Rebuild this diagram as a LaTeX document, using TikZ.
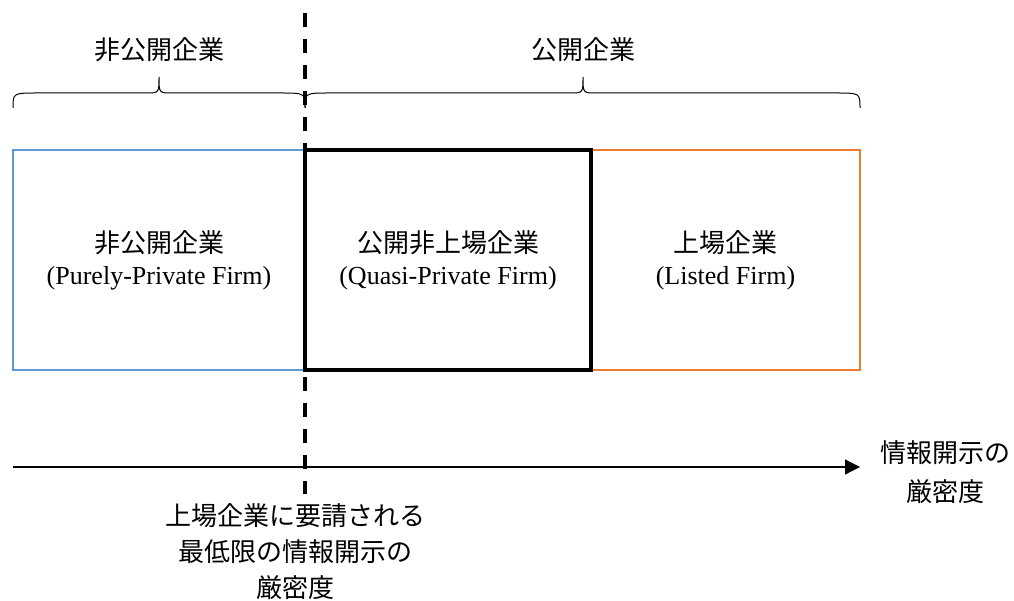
\documentclass[tikz,border=0pt]{standalone}
\usepackage{fontspec}
\setmainfont{Liberation Serif}
\newfontfamily\cjk{Noto Sans CJK JP}
\usetikzlibrary{arrows.meta}
\definecolor{boxblue}{HTML}{5B9BD5}
\definecolor{boxorange}{HTML}{ED7D31}
\begin{document}
\begin{tikzpicture}[x=1pt,y=-1pt,
  firm/.style={minimum height=220pt, inner sep=0pt, align=center, font=\fontsize{26}{32}\selectfont},
  lbl/.style={inner sep=0pt, align=center, font=\fontsize{26}{37}\selectfont\cjk},
  bracepath/.style={draw=black, line width=1pt},
  axis/.style={draw=black, line width=1.2pt, -{Triangle[length=15pt,width=15pt]}},
  divider/.style={draw=black, line width=4pt, dash pattern=on 14pt off 12pt}]
\useasboundingbox (0,0) rectangle (1014,601);
% boxes
\node[firm, draw=boxblue, line width=2pt, minimum width=292pt] (priv) at (159,260) {{\cjk 非公開企業}\\(Purely-Private Firm)};
\node[firm, draw=boxorange, line width=2pt, minimum width=269pt] (listed) at (725.5,260) {{\cjk 上場企業}\\(Listed Firm)};
\node[firm, draw=black, line width=4.5pt, minimum width=286pt] (quasi) at (448,260) {{\cjk 公開非上場企業}\\(Quasi-Private Firm)};
% braces
\draw[bracepath] (13,108) .. controls (13,93) .. (38,93) -- (146,93) .. controls (159,93) .. (159,77) .. controls (159,93) .. (172,93) -- (280,93) .. controls (305,93) .. (305,108);
\draw[bracepath] (305,108) .. controls (305,93) .. (330,93) -- (570,93) .. controls (583,93) .. (583,77) .. controls (583,93) .. (596,93) -- (835,93) .. controls (860,93) .. (860,108);
\node[lbl] (lprivate) at (159,50) {非公開企業};
\node[lbl] (lpublic) at (583,50) {公開企業};
% axis
\coordinate (a0) at (13,467);
\coordinate (a1) at (860,467);
\draw[axis] (a0) -- (a1);
\node[lbl, font=\fontsize{26}{39}\selectfont\cjk] (axlabel) at (945,472) {情報開示の\\厳密度};
% divider
\coordinate (d0) at (305,13);
\coordinate (d1) at (305,494);
\draw[divider] (d0) -- (d1);
\node[lbl, font=\fontsize{26}{36}\selectfont\cjk] (minlabel) at (295,552) {上場企業に要請される\\最低限の情報開示の\\厳密度};
\end{tikzpicture}
\end{document}
